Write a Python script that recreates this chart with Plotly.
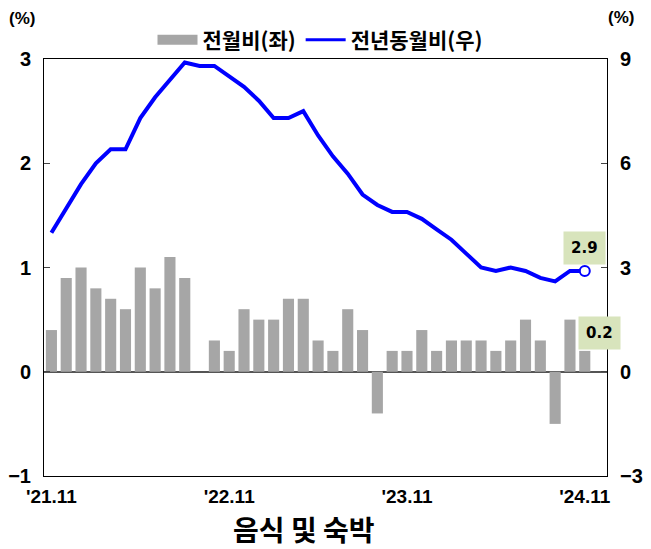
import plotly.graph_objects as go

months = ["'21.11","'21.12","'22.01","'22.02","'22.03","'22.04","'22.05","'22.06","'22.07","'22.08","'22.09","'22.10",
          "'22.11","'22.12","'23.01","'23.02","'23.03","'23.04","'23.05","'23.06","'23.07","'23.08","'23.09","'23.10",
          "'23.11","'23.12","'24.01","'24.02","'24.03","'24.04","'24.05","'24.06","'24.07","'24.08","'24.09","'24.10","'24.11"]
mom = [0.4, 0.9, 1.0, 0.8, 0.7, 0.6, 1.0, 0.8, 1.1, 0.9, 0.0, 0.3,
       0.2, 0.6, 0.5, 0.5, 0.7, 0.7, 0.3, 0.2, 0.6, 0.4, -0.4, 0.2,
       0.2, 0.4, 0.2, 0.3, 0.3, 0.3, 0.2, 0.3, 0.5, 0.3, -0.5, 0.5, 0.2]
yoy = [4.0, 4.7, 5.4, 6.0, 6.4, 6.4, 7.3, 7.9, 8.4, 8.9, 8.8, 8.8,
       8.5, 8.2, 7.8, 7.3, 7.3, 7.5, 6.8, 6.2, 5.7, 5.1, 4.8, 4.6,
       4.6, 4.4, 4.1, 3.8, 3.4, 3.0, 2.9, 3.0, 2.9, 2.7, 2.6, 2.9, 2.9]
tick_idx = [0, 12, 24, 36]
tick_labels = ["'21.11", "'22.11", "'23.11", "'24.11"]
left_ticks = [3, 2, 1, 0, -1]
right_ticks = [9, 6, 3, 0, -3]
name_mom = "전월비(좌)"
name_yoy = "전년동월비(우)"
title = "음식 및 숙박"

x = list(range(len(months)))
NUM = "Liberation Sans, Arial, sans-serif"
KR = "Noto Sans CJK KR, sans-serif"

W, H = 651, 549
L, R, T, B = 44, 44, 59, 73
PW, PH = W - L - R, H - T - B

def px(xp):
    return (xp - L) / PW

def py(yp):
    return (H - B - yp) / PH

fig = go.Figure()
fig.add_trace(go.Bar(x=x, y=mom, marker=dict(color="#a6a6a6", line=dict(width=0)),
                     showlegend=False, yaxis="y", name=name_mom))
fig.add_trace(go.Scatter(x=x, y=yoy, mode="lines", line=dict(color="#0000ff", width=4),
                         showlegend=False, yaxis="y2", name=name_yoy))
fig.add_trace(go.Scatter(x=[x[-1]], y=[yoy[-1]], mode="markers", yaxis="y2", showlegend=False,
                         marker=dict(symbol="circle", size=10, color="white",
                                     line=dict(color="#0000ff", width=2))))
# legend entries
fig.add_trace(go.Scatter(x=[None], y=[None], mode="lines", name=name_mom,
                         line=dict(color="#a6a6a6", width=10), yaxis="y"))
fig.add_trace(go.Scatter(x=[None], y=[None], mode="lines", name=name_yoy,
                         line=dict(color="#0000ff", width=3), yaxis="y2"))

fig.update_layout(
    width=W, height=H,
    margin=dict(l=L, r=R, t=T, b=B, autoexpand=False),
    plot_bgcolor="white", paper_bgcolor="white",
    bargap=0.25,
    showlegend=True,
    legend=dict(orientation="h", x=px(320), xanchor="center", y=py(40), yanchor="middle",
                font=dict(family=KR, size=21, color="black", weight="bold"),
                traceorder="normal", bgcolor="rgba(0,0,0,0)", itemwidth=40),
    xaxis=dict(range=[-0.5, 37.5], tickmode="array", tickvals=tick_idx, ticktext=tick_labels,
               showline=True, linecolor="black", linewidth=1, mirror=True,
               ticks="", showgrid=False, zeroline=False, ticklabelstandoff=3,
               tickfont=dict(family=NUM, size=19, color="black", weight="bold")),
    yaxis=dict(range=[-1, 3], tickmode="array", tickvals=left_ticks,
               showline=True, linecolor="black", linewidth=1, mirror=True,
               ticks="inside", ticklen=6, tickcolor="#444", showgrid=False,
               zeroline=True, zerolinecolor="#555", zerolinewidth=1.5,
               tickfont=dict(family=NUM, size=20, color="black", weight="bold"), ticklabelstandoff=8),
    yaxis2=dict(range=[-3, 9], tickmode="array", tickvals=right_ticks, overlaying="y", side="right",
                showline=True, linecolor="black", linewidth=1,
                ticks="inside", ticklen=6, tickcolor="#444", showgrid=False, zeroline=False,
                tickfont=dict(family=NUM, size=20, color="black", weight="bold"), ticklabelstandoff=8),
)

fig.add_annotation(x=x[-1], y=yoy[-1], xref="x", yref="y2", text="<b>%.1f</b>" % yoy[-1], showarrow=False,
                   yshift=23, bgcolor="#d8e4bc", borderpad=7,
                   font=dict(family="DejaVu Sans, sans-serif", size=15, color="black"))
fig.add_annotation(x=x[-1], y=mom[-1], xref="x", yref="y", text="<b>%.1f</b>" % mom[-1], showarrow=False,
                   xshift=15, yshift=18, bgcolor="#d8e4bc", borderpad=7,
                   font=dict(family="DejaVu Sans, sans-serif", size=15, color="black"))
fig.add_annotation(xref="paper", yref="paper", x=px(22), y=py(19), xanchor="center", yanchor="middle",
                   text="<b>(%)</b>", showarrow=False, font=dict(family=NUM, size=17, color="black"))
fig.add_annotation(xref="paper", yref="paper", x=px(621), y=py(18), xanchor="center", yanchor="middle",
                   text="<b>(%)</b>", showarrow=False, font=dict(family=NUM, size=17, color="black"))
fig.add_annotation(xref="paper", yref="paper", x=px(304), y=py(529), xanchor="center", yanchor="middle",
                   text="<b>" + title + "</b>", showarrow=False,
                   font=dict(family=KR, size=28, color="black"))

fig.write_html("out.html", config={"displayModeBar": False},
               post_script="document.body.style.margin='0px';document.body.style.overflow='hidden';")
